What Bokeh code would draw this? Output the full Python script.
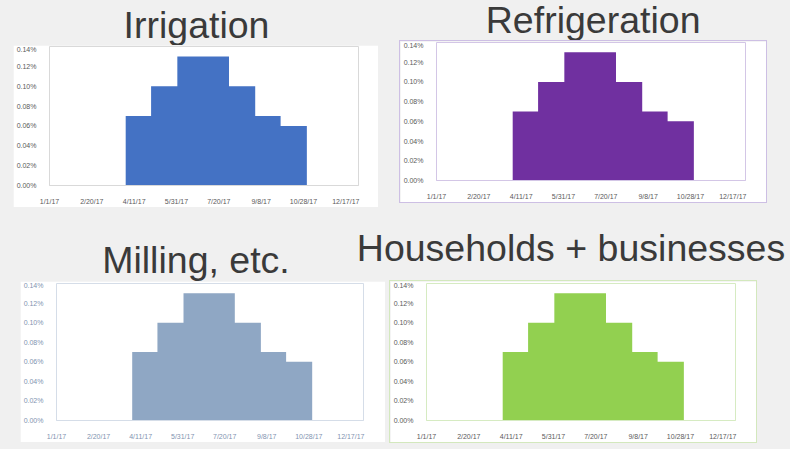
import pandas as pd
from bokeh.plotting import figure
from bokeh.layouts import column, row
from bokeh.models import Range1d, FixedTicker, PrintfTickFormatter, ColumnDataSource
from bokeh.core.properties import value
from bokeh.embed import file_html
from bokeh.resources import INLINE

# ---------------- data ----------------
month_starts = ["2017-01-01", "2017-02-01", "2017-03-01", "2017-04-01", "2017-05-01",
                "2017-06-01", "2017-07-01", "2017-08-01", "2017-09-01", "2017-10-01",
                "2017-11-01", "2017-12-01", "2018-01-01"]
daily_share_pct = [0.00, 0.00, 0.00, 0.07, 0.10, 0.13, 0.13, 0.10, 0.07, 0.06, 0.00, 0.00]
x_tick_labels = ["1/1/17", "2/20/17", "4/11/17", "5/31/17", "7/20/17", "9/8/17",
                 "10/28/17", "12/17/17"]
y_ticks = [0.00, 0.02, 0.04, 0.06, 0.08, 0.10, 0.12, 0.14]
panel_titles = ["Irrigation", "Refrigeration", "Milling, etc.", "Households + businesses"]

# ---------------- styles ----------------
BG = "#f0f0f0"
TITLE_COLOR = "#3a3a3a"
TITLE_FONT = "Liberation Sans"
TITLE_SIZE = "37.5px"
panel_fill = ["#4472c4", "#7030a0", "#8fa7c4", "#92d050"]
panel_outline = ["#d9d9d9", "#d3c6e6", "#d5dde8", "#d6ebc2"]
panel_label = ["#5a5a5a", "#5a5a5a", "#7f93b0", "#5a5a5a"]
panel_border = [None, "#cdbfe4", None, "#d3e8bd"]

starts = pd.to_datetime(month_starts)
step_top = daily_share_pct + [daily_share_pct[-1]]
src = ColumnDataSource(dict(x=starts, y1=[0.0] * len(step_top), y2=step_top))
tick_dates = [pd.to_datetime(t, format="%m/%d/%y") for t in x_tick_labels]
tick_ms = [int(t.value // 10**6) for t in tick_dates]
x_start = starts[0].to_pydatetime()
x_end = starts[-1].to_pydatetime()


def make_chart(i, w, h, bl, br, bt, bb, margin):
    styles = {}
    if panel_border[i]:
        styles = {"box-shadow": "0 0 0 1px " + panel_border[i]}
    p = figure(width=w, height=h, x_axis_type="datetime",
               x_range=Range1d(x_start, x_end), y_range=Range1d(0, y_ticks[-1]),
               toolbar_location=None, output_backend="svg",
               min_border_left=bl, min_border_right=br, min_border_top=bt,
               min_border_bottom=bb, border_fill_color="white",
               background_fill_color="white", outline_line_color=panel_outline[i],
               outline_line_width=1, margin=margin, styles=styles)
    p.varea_step(x="x", y1="y1", y2="y2", step_mode="after", source=src,
                 fill_color=panel_fill[i])
    p.grid.visible = False
    p.xaxis.ticker = FixedTicker(ticks=tick_ms)
    p.xaxis.major_label_overrides = {ms: lab for ms, lab in zip(tick_ms, x_tick_labels)}
    p.yaxis.ticker = FixedTicker(ticks=y_ticks)
    p.yaxis.formatter = PrintfTickFormatter(format="%.2f%%")
    for ax in (p.xaxis[0], p.yaxis[0]):
        ax.major_tick_line_color = None
        ax.minor_tick_line_color = None
        ax.major_label_text_font = TITLE_FONT
        ax.major_label_text_font_size = "7px"
        ax.major_label_text_color = panel_label[i]
    p.yaxis.axis_line_color = None
    p.xaxis.axis_line_color = panel_outline[i]
    p.xaxis.major_label_standoff = 6
    p.yaxis.major_label_standoff = 7
    return p


def make_title(text, w, h, cx, baseline):
    p = figure(width=w, height=h, x_range=Range1d(0, w), y_range=Range1d(h, 0),
               toolbar_location=None, output_backend="svg",
               x_axis_location=None, y_axis_location=None,
               min_border=0, min_border_left=0, min_border_right=0,
               min_border_top=0, min_border_bottom=0,
               border_fill_color=BG, background_fill_color=BG, outline_line_color=None)
    p.grid.visible = False
    p.text(x=cx, y=baseline, text=text, text_font=value(TITLE_FONT),
           text_font_size=TITLE_SIZE, text_color=TITLE_COLOR, text_align="center",
           text_baseline="alphabetic")
    return p


# top half (left column x 0..388, right column x 388..790)
t1 = make_title([panel_titles[0]], 388, 45, [187.0], [24.0])
c1 = make_chart(0, 365, 162, 30, 20, 1, 19, (0, 0, 0, 13))
t2 = make_title([panel_titles[1]], 402, 41, [196.5], [19.5])
c2 = make_chart(1, 366, 161, 31, 21, 1, 17, (0, 0, 5, 12))
top = row(column(t1, c1), column(t2, c2))

# bottom half
t34 = make_title([panel_titles[2], panel_titles[3]], 790, 74, [195.5, 570.5], [52.0, 40.5])
c3 = make_chart(2, 365, 161, 30, 22, 1, 17, (0, 0, 7, 20))
c4 = make_chart(3, 366, 161, 31, 21, 2, 17, (0, 0, 7, 5))
bottom = row(c3, c4)

layout = column(top, t34, bottom, styles={"background-color": BG})

open("out.html", "w").write(file_html(layout, INLINE))
